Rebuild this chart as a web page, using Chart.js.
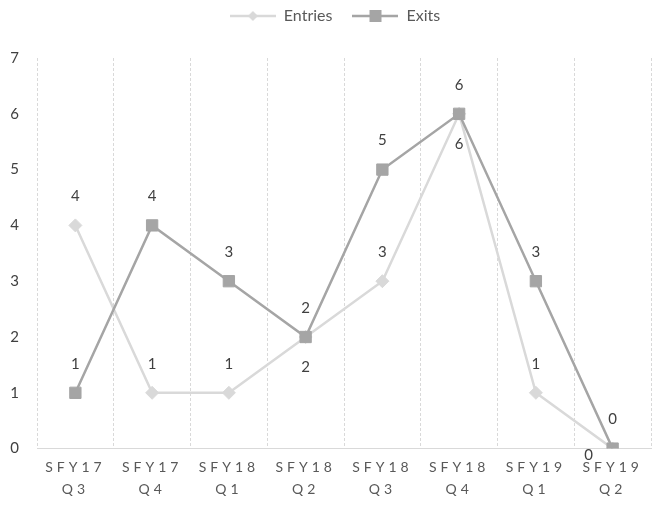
<!DOCTYPE html>
<html>
<head>
<meta charset="utf-8">
<script src="https://cdn.jsdelivr.net/npm/chart.js@4"></script>
<style>
  html, body { margin: 0; padding: 0; background: #fff; }
  #wrap { width: 660px; height: 508px; }
</style>
</head>
<body>
<div id="wrap"><canvas id="chart"></canvas></div>
<script>
const quarters = [['SFY17', 'Q3'], ['SFY17', 'Q4'], ['SFY18', 'Q1'], ['SFY18', 'Q2'],
                  ['SFY18', 'Q3'], ['SFY18', 'Q4'], ['SFY19', 'Q1'], ['SFY19', 'Q2']];
const entries = [4, 1, 1, 2, 3, 6, 1, 0];
const exits = [1, 4, 3, 2, 5, 6, 3, 0];

const entriesColor = '#d9d9d9';
const exitsColor = '#a5a5a5';
const font = 'Lato, "Open Sans", sans-serif';

// where each value label sits relative to its point
const labelSpots = {
  0: ['above', 'above', 'above', 'below', 'above', 'below', 'above', 'left'],
  1: ['above', 'above', 'above', 'above', 'above', 'above', 'above', 'above']
};

function legendSwatch(color, style) {
  const c = document.createElement('canvas');
  c.width = 46; c.height = 14;
  const g = c.getContext('2d');
  g.strokeStyle = color;
  g.lineWidth = 2.5;
  g.beginPath(); g.moveTo(0, 7); g.lineTo(46, 7); g.stroke();
  g.fillStyle = color;
  if (style === 'rect') {
    g.fillRect(17, 1, 12, 12);
  } else {
    g.beginPath(); g.moveTo(23, 2); g.lineTo(28, 7); g.lineTo(23, 12); g.lineTo(18, 7); g.closePath(); g.fill();
  }
  return c;
}

const valueLabels = {
  id: 'valueLabels',
  afterDatasetsDraw(chart) {
    const ctx = chart.ctx;
    ctx.save();
    ctx.font = '15px ' + font;
    ctx.fillStyle = '#404040';
    ctx.textAlign = 'center';
    ctx.textBaseline = 'middle';
    chart.data.datasets.forEach((ds, i) => {
      const meta = chart.getDatasetMeta(i);
      meta.data.forEach((pt, j) => {
        const spot = labelSpots[i][j];
        let x = pt.x, y = pt.y;
        if (spot === 'above') y -= 29;
        else if (spot === 'below') y += 30;
        else { x -= 24; y += 7; }
        ctx.fillText(String(ds.data[j]), x, y);
      });
    });
    ctx.restore();
  }
};

// letter-spaced x tick labels, a taller legend box so the plot starts lower,
// and no side padding so the plot runs to the right edge
const tweaks = {
  id: 'tweaks',
  beforeLayout(chart) {
    const lg = chart.legend;
    if (lg && !lg._tall) {
      const fit = lg.fit;
      lg.fit = function () { fit.call(this); this.height = 70; };
      lg._tall = true;
    }
    Object.values(chart.scales).forEach(s => {
      if (s._noSide) return;
      const gp = s.getPadding.bind(s);
      s.getPadding = function () {
        const p = gp();
        return { left: 0, right: 0, top: p.top, bottom: p.bottom };
      };
      s._noSide = true;
    });
  },
  afterLayout(chart) {
    const sx = chart.scales.x;
    if (sx._spaced) return;
    const orig = sx.drawLabels;
    sx.drawLabels = function (area) {
      this.ctx.save();
      this.ctx.letterSpacing = '4px';
      orig.call(this, area);
      this.ctx.restore();
    };
    sx._spaced = true;
  }
};

new Chart(document.getElementById('chart'), {
  type: 'line',
  data: {
    labels: quarters,
    datasets: [
      {
        label: 'Entries',
        data: entries,
        borderColor: entriesColor,
        backgroundColor: entriesColor,
        borderWidth: 2.5,
        pointStyle: 'rectRot',
        pointRadius: 6.5,
        pointBorderWidth: 1,
        pointHoverRadius: 6.5,
        tension: 0,
        order: 2
      },
      {
        label: 'Exits',
        data: exits,
        borderColor: exitsColor,
        backgroundColor: exitsColor,
        borderWidth: 2.5,
        pointStyle: 'rect',
        pointRadius: 8,
        pointBorderWidth: 1,
        pointHoverRadius: 8,
        tension: 0,
        order: 1
      }
    ]
  },
  options: {
    responsive: true,
    maintainAspectRatio: false,
    animation: false,
    layout: { padding: { left: 10, right: 0, top: -12, bottom: 0 } },
    plugins: {
      tooltip: { enabled: false },
      legend: {
        position: 'top',
        labels: {
          usePointStyle: true,
          pointStyleWidth: 46,
          color: '#595959',
          font: { family: font, size: 16 },
          padding: 20,
          generateLabels(chart) {
            return chart.data.datasets.map((ds, i) => ({
              text: ds.label,
              pointStyle: legendSwatch(ds.borderColor, i === 0 ? 'rectRot' : 'rect'),
              fillStyle: ds.borderColor,
              strokeStyle: ds.borderColor,
              lineWidth: 0,
              fontColor: '#595959',
              datasetIndex: i
            }));
          }
        }
      }
    },
    scales: {
      x: {
        offset: true,
        grid: { offset: true, color: '#d9d9d9', drawTicks: false },
        border: { color: '#d9d9d9', dash: [3, 2] },
        ticks: {
          color: '#595959',
          font: { family: font, size: 14, lineHeight: 1.55 },
          padding: 8,
          maxRotation: 0,
          autoSkip: false
        }
      },
      y: {
        min: 0,
        max: 7,
        grid: {
          drawTicks: false,
          color: ctx => ctx.tick && ctx.tick.value === 0 ? '#d9d9d9' : 'rgba(0,0,0,0)'
        },
        border: { display: false, dash: [3, 2] },
        ticks: {
          stepSize: 1,
          color: '#404040',
          font: { family: font, size: 15 },
          padding: 18
        },
        afterFit(scale) {
          scale.width = 27;
        }
      }
    }
  },
  plugins: [valueLabels, tweaks]
});
</script>
</body>
</html>
